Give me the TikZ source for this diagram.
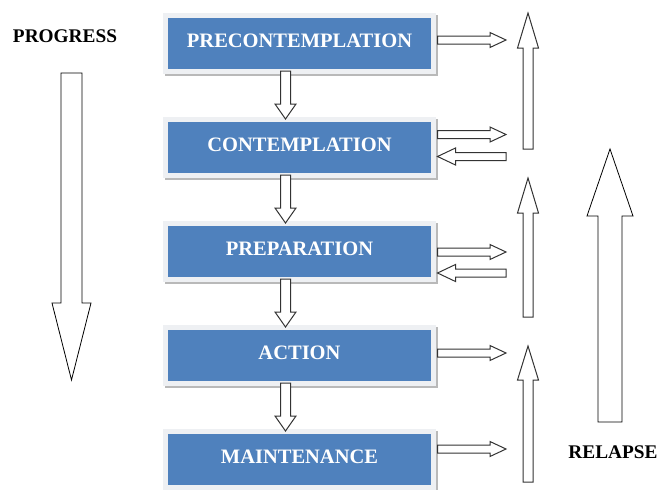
\documentclass[tikz,border=0pt]{standalone}
\usepackage{fontspec}
\setmainfont{Liberation Serif}
\usepackage{tikz}
\usetikzlibrary{calc,shadows}
\definecolor{stageblue}{RGB}{79,129,189}
\definecolor{framegray}{RGB}{238,240,243}
\newcommand{\hollowarrow}[6][]{%
  \path #2 coordinate (ha) #3 coordinate (hz);
  \path ($(hz)!#6!(ha)$) coordinate (hb);
  \draw[hollow,#1] ($(ha)!#4!90:(hz)$) -- ($(hb)!#4!-90:(ha)$) -- ($(hb)!#5!-90:(ha)$) -- (hz)
    -- ($(hb)!#5!90:(ha)$) -- ($(hb)!#4!90:(ha)$) -- ($(ha)!#4!-90:(hz)$) -- cycle;
}

\begin{document}
\begin{tikzpicture}[
    x=1pt, y=-1pt,
    stage/.style={fill=stageblue, draw=framegray, line width=5pt, outer sep=0pt, inner sep=0pt,
      minimum width=268pt, minimum height=56pt, text height=13.6pt, text depth=5pt, text=white,
      font=\fontsize{20.5}{24}\selectfont\bfseries,
      drop shadow={shadow xshift=2pt, shadow yshift=-2pt, opacity=1, fill=gray!55, draw=gray!55}},
    tag/.style={font=\fontsize{19.3}{23}\selectfont\bfseries},
    hollow/.style={draw=black!80, fill=white, line width=1pt, line join=miter}
]
  \useasboundingbox (0,0) rectangle (659,490);

  \node[stage] (PCbox) at (299.5,43)  {PRECONTEMPLATION};
  \node[stage] (Cbox)  at (299.5,147) {CONTEMPLATION};
  \node[stage] (PRbox) at (299.5,251) {PREPARATION};
  \node[stage] (Abox)  at (299.5,355) {ACTION};
  \node[stage] (Mbox)  at (299.5,459) {MAINTENANCE};

  \node[tag] (prog) at (65,36)  {PROGRESS};
  \node[tag] (rel)  at (613,452) {RELAPSE};

  \coordinate (rcol) at (506,0);

  \hollowarrow{($(PCbox.south)+(-14,0)$)}{($(Cbox.north)+(-14,0)$)}{5pt}{10.5pt}{15pt}
  \hollowarrow{($(Cbox.south)+(-14,0)$)}{($(PRbox.north)+(-14,0)$)}{5pt}{10.5pt}{15pt}
  \hollowarrow{($(PRbox.south)+(-14,0)$)}{($(Abox.north)+(-14,0)$)}{5pt}{10.5pt}{15pt}
  \hollowarrow{($(Abox.south)+(-14,0)$)}{($(Mbox.north)+(-14,0)$)}{5pt}{10.5pt}{15pt}

  \hollowarrow{($(PCbox.east)+(4,-3)$)}{($(PCbox.east -| rcol)+(0,-3)$)}{4pt}{7.5pt}{16pt}
  \hollowarrow{($(Cbox.east)+(4,-12.5)$)}{($(Cbox.east -| rcol)+(0,-12.5)$)}{4pt}{7.5pt}{16pt}
  \hollowarrow{($(Cbox.east -| rcol)+(0,9.5)$)}{($(Cbox.east)+(4,9.5)$)}{4pt}{8.5pt}{18pt}
  \hollowarrow{($(PRbox.east)+(4,1)$)}{($(PRbox.east -| rcol)+(0,1)$)}{4pt}{7.5pt}{16pt}
  \hollowarrow{($(PRbox.east -| rcol)+(0,22)$)}{($(PRbox.east)+(4,22)$)}{4pt}{8.5pt}{18pt}
  \hollowarrow{($(Abox.east)+(4,-2)$)}{($(Abox.east -| rcol)+(0,-2)$)}{4pt}{7.5pt}{16pt}
  \hollowarrow{($(Mbox.east)+(4,-10)$)}{($(Mbox.east -| rcol)+(0,-10)$)}{4pt}{7.5pt}{16pt}

  \hollowarrow{(528,149)}{(528,13)}{5pt}{10.5pt}{35pt}
  \hollowarrow{(528,317)}{(528,178)}{5pt}{10.5pt}{35pt}
  \hollowarrow{(528,482)}{(528,346)}{5pt}{10.5pt}{34pt}

  \hollowarrow[draw=black, line width=0.8pt]{(610,422)}{(610,149)}{12pt}{23pt}{67pt}
  \hollowarrow[draw=black, line width=0.8pt]{(71.5,73)}{(71.5,380)}{10.5pt}{19.5pt}{77pt}
\end{tikzpicture}
\end{document}
